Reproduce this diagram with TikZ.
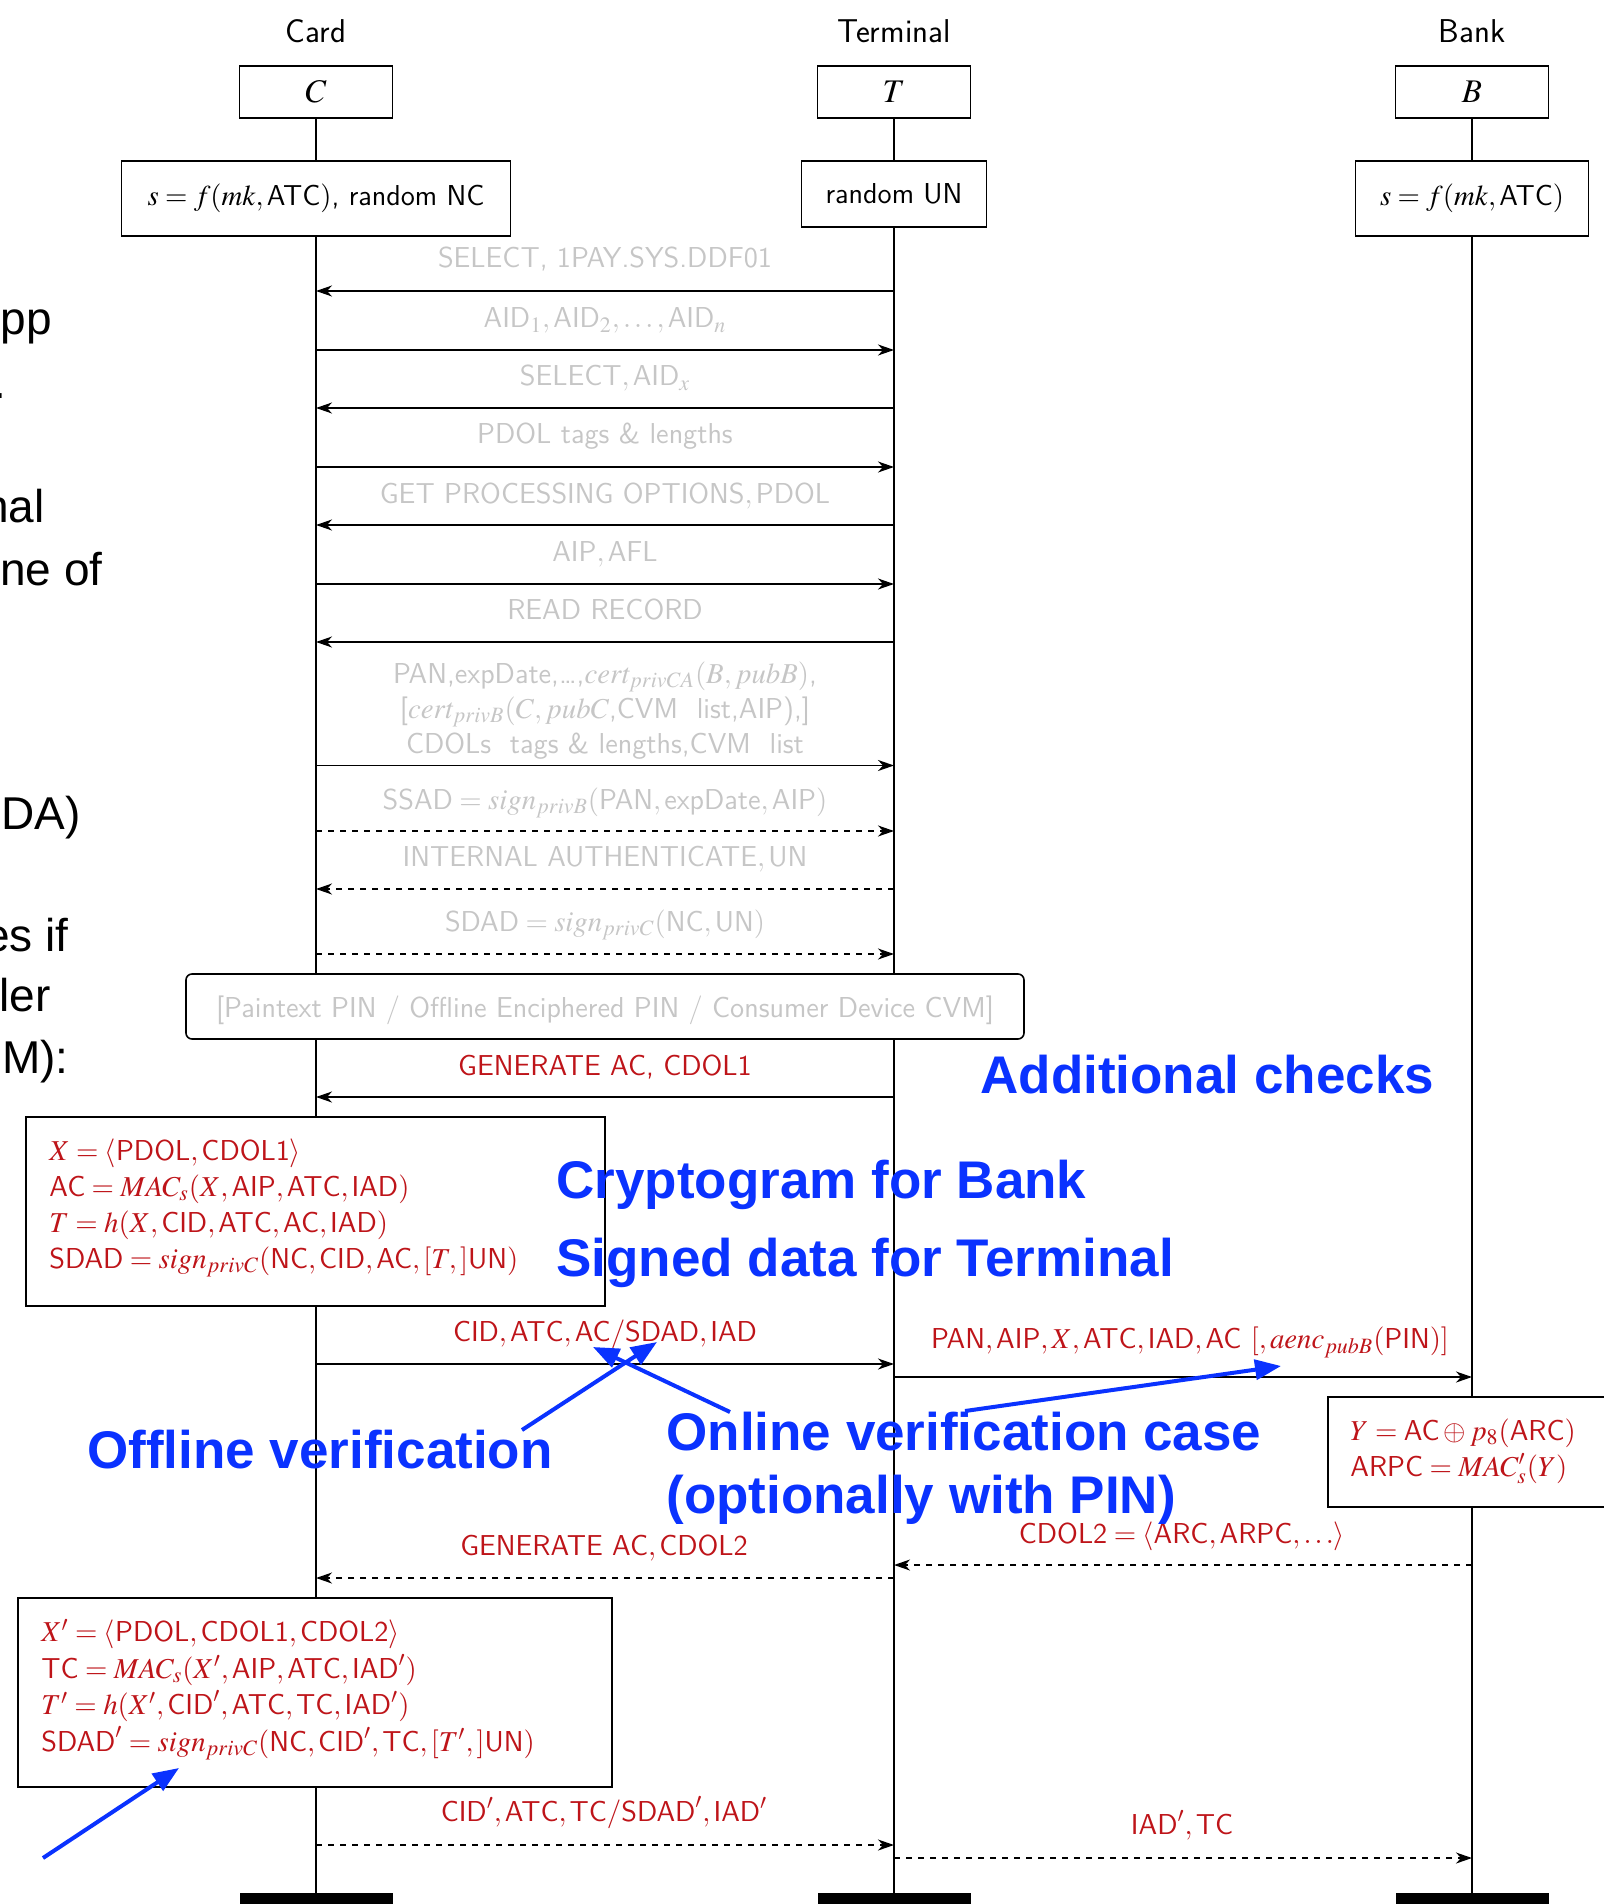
\documentclass[tikz,border=0pt]{standalone}
\usepackage{mathptmx}
\usepackage[no-math]{fontspec}
\setmainfont{Liberation Serif}
\newfontfamily\helv{Liberation Sans}
\usetikzlibrary{arrows.meta}
\definecolor{emvred}{RGB}{190,20,25}
\definecolor{emvgray}{RGB}{198,198,198}
\definecolor{emvblue}{RGB}{10,50,255}
\newcommand\fsmain{\fontsize{14.4}{18}\selectfont}
\newcommand\fsbig{\fontsize{16.5}{20}\selectfont}
\begin{document}
\begin{tikzpicture}[x=0.5pt,y=-0.5pt,
  lbl/.style={font=\fsbig\sffamily, inner sep=0pt, anchor=base},
  topbox/.style={draw, line width=0.8pt, fill=white, minimum width=76.5pt, minimum height=26pt, inner sep=0pt, font=\fsbig},
  initbox/.style={draw, line width=0.8pt, fill=white, inner sep=0pt, font=\fsmain\sffamily},
  life/.style={line width=0.6pt},
  msg/.style={line width=0.8pt, -{Stealth[length=8pt,width=5.5pt,inset=2.5pt]}},
  dmsg/.style={msg, dashed},
  gtxt/.style={text=emvgray, font=\fsmain\sffamily, inner sep=0pt, align=center, anchor=base},
  rtxt/.style={text=emvred, font=\fsmain\sffamily, inner sep=0pt, align=center, anchor=base},
  calc/.style={text=emvred, font=\fsmain\sffamily, inner sep=0pt, align=left, anchor=base west},
  calcbox/.style={draw, line width=0.8pt, fill=white, inner sep=0pt},
  note/.style={text=emvblue, font=\fontsize{26.5}{31.5}\selectfont\helv\bfseries, inner sep=0pt, anchor=base west},
  hint/.style={emvblue, line width=2pt, -{Triangle[length=13pt,width=10pt]}},
  frag/.style={font=\fontsize{23}{28}\selectfont\helv, inner sep=0pt, anchor=base east},
  endbar/.style={fill=black, minimum width=76.5pt, minimum height=14pt, inner sep=0pt}
]
\useasboundingbox (0,0) rectangle (1604,1904);

% cut-off slide text on the left
\begin{scope}
\clip (0,0) rectangle (1604,1904);
\node[frag] (f1) at (52,335) {pp};
\node[frag] (f2) at (7,398) {.};
\node[frag] (f3) at (45,522) {nal};
\node[frag] (f4) at (103,585) {ne of};
\node[frag] (f5) at (81,829) {DA)};
\node[frag] (f6) at (69,951) {es if};
\node[frag] (f7) at (51,1011) {ler};
\node[frag] (f8) at (69,1073) {M):};
\end{scope}

% participants
\node[lbl] (lc) at (316,43) {Card};
\node[lbl] (lt) at (894,43) {Terminal};
\node[lbl] (lb) at (1472,43) {Bank};
\node[topbox] (C) at (316,92) {$C$};
\node[topbox] (T) at (894,92) {$T$};
\node[topbox] (B) at (1472,92) {$B$};
\node[initbox, minimum width=194.5pt, minimum height=37.5pt] (Ci) at (316,198.5) {$s=f(mk,\mbox{ATC})$, random NC};
\node[initbox, minimum width=92.5pt, minimum height=33pt] (Ti) at (894,194) {random UN};
\node[initbox, minimum width=116.5pt, minimum height=37.5pt] (Bi) at (1472,198.5) {$s=f(mk,\mbox{ATC})$};
\node[endbar] (Ce) at (316,1907) {};
\node[endbar] (Te) at (894,1907) {};
\node[endbar] (Be) at (1472,1907) {};

% lifelines
\draw[life] (C) -- (Ci);
\draw[life] (T) -- (Ti);
\draw[life] (B) -- (Bi);
\draw[life] (Ci) -- (Ce);
\draw[life] (Ti) -- (Te);
\draw[life] (Bi) -- (Be);

% message end points
\foreach \i/\y in {1/291,2/350,3/408,4/467,5/525,6/584,7/642,8/765.5,9/831,10/889,11/954,12/1097,13/1364,14/1377,15/1565,16/1578,17/1845,18/1858}{
  \coordinate (c\i) at (316,\y);
  \coordinate (t\i) at (894,\y);
  \coordinate (b\i) at (1472,\y);
}

% grey messages
\node[gtxt] (g1) at (605,268) {SELECT, 1PAY.SYS.DDF01};
\draw[msg] (t1) -- (c1);
\node[gtxt] (g2) at (605,328) {$\mbox{AID}_1,\mbox{AID}_2,\ldots,\mbox{AID}_n$};
\draw[msg] (c2) -- (t2);
\node[gtxt] (g3) at (605,386) {$\mbox{SELECT},\mbox{AID}_x$};
\draw[msg] (t3) -- (c3);
\node[gtxt] (g4) at (605,443) {PDOL tags \& lengths};
\draw[msg] (c4) -- (t4);
\node[gtxt] (g5) at (605,503) {$\mbox{GET PROCESSING OPTIONS},\mbox{PDOL}$};
\draw[msg] (t5) -- (c5);
\node[gtxt] (g6) at (605,561) {$\mbox{AIP},\mbox{AFL}$};
\draw[msg] (c6) -- (t6);
\node[gtxt] (g7) at (605,619) {READ RECORD};
\draw[msg] (t7) -- (c7);
\node[gtxt, font=\fontsize{14.4}{17.5}\selectfont\sffamily] (g8) at (605,753) {PAN,expDate,\ldots,$cert_{privCA}(B,pubB)$,\\
{[}$cert_{privB}(C,pubC$,CVM\ \ list,AIP),{]}\\
CDOLs\ \ tags \& lengths,CVM\ \ list};
\draw[msg] (c8) -- (t8);
\node[gtxt] (g9) at (605,809) {$\mbox{SSAD}=sign_{privB}(\mbox{PAN},\mbox{expDate},\mbox{AIP})$};
\draw[dmsg] (c9) -- (t9);
\node[gtxt] (g10) at (605,866) {$\mbox{INTERNAL AUTHENTICATE},\mbox{UN}$};
\draw[dmsg] (t10) -- (c10);
\node[gtxt] (g11) at (605,931) {$\mbox{SDAD}=sign_{privC}(\mbox{NC},\mbox{UN})$};
\draw[dmsg] (c11) -- (t11);

\node[draw, line width=0.8pt, fill=white, rounded corners=3pt, minimum width=419pt, minimum height=32.5pt] (cvm) at (605,1006.5) {};
\node[gtxt] (cvmt) at (605,1017) {[Paintext PIN\ /\ Offline Enciphered PIN\ /\ Consumer Device CVM]};

% first GENERATE AC
\node[rtxt] (r12) at (605,1075) {GENERATE AC,\ CDOL1};
\draw[msg] (t12) -- (c12);

\node[calcbox, minimum width=289.5pt, minimum height=94.5pt] (xbox) at (315.5,1211.5) {};
\node[calc] (xtxt) at (49,1268) {$X=\langle\mbox{PDOL},\mbox{CDOL1}\rangle$\\
$\mbox{AC}=MAC_s(X,\mbox{AIP},\mbox{ATC},\mbox{IAD})$\\
$T=h(X,\mbox{CID},\mbox{ATC},\mbox{AC},\mbox{IAD})$\\
$\mbox{SDAD}=sign_{privC}(\mbox{NC},\mbox{CID},\mbox{AC},[T,]\mbox{UN})$};

\node[rtxt] (r13) at (605,1341) {$\mbox{CID},\mbox{ATC},\mbox{AC}/\mbox{SDAD},\mbox{IAD}$};
\draw[msg] (c13) -- (t13);
\node[rtxt] (r14) at (1190,1348) {$\mbox{PAN},\mbox{AIP},X,\mbox{ATC},\mbox{IAD},\mbox{AC}\ [,aenc_{pubB}(\mbox{PIN})]$};
\draw[msg] (t14) -- (b14);

\node[calcbox, minimum width=144pt, minimum height=55pt] (ybox) at (1472,1452) {};
\node[calc] (ytxt) at (1350,1476) {$Y=\mbox{AC}\oplus p_8(\mbox{ARC})$\\
$\mbox{ARPC}=MAC'_s(Y)$};

\node[rtxt] (r15) at (1182,1543) {$\mbox{CDOL2}=\langle\mbox{ARC},\mbox{ARPC},\ldots\rangle$};
\draw[dmsg] (b15) -- (t15);
\node[rtxt] (r16) at (604,1555) {$\mbox{GENERATE AC},\mbox{CDOL2}$};
\draw[dmsg] (t16) -- (c16);

\node[calcbox, minimum width=297pt, minimum height=94.5pt] (xpbox) at (315,1692.5) {};
\node[calc, font=\fontsize{14.4}{18.2}\selectfont\sffamily] (xptxt) at (41,1751) {$X'=\langle\mbox{PDOL},\mbox{CDOL1},\mbox{CDOL2}\rangle$\\
$\mbox{TC}=MAC_s(X',\mbox{AIP},\mbox{ATC},\mbox{IAD}')$\\
$T'=h(X',\mbox{CID}',\mbox{ATC},\mbox{TC},\mbox{IAD}')$\\
$\mbox{SDAD}'=sign_{privC}(\mbox{NC},\mbox{CID}',\mbox{TC},[T',]\mbox{UN})$};

\node[rtxt] (r17) at (604,1821) {$\mbox{CID}',\mbox{ATC},\mbox{TC}/\mbox{SDAD}',\mbox{IAD}'$};
\draw[dmsg] (c17) -- (t17);
\node[rtxt] (r18) at (1182,1834) {$\mbox{IAD}',\mbox{TC}$};
\draw[dmsg] (t18) -- (b18);

% blue annotations
\node[note] (n1) at (980,1093) {Additional checks};
\node[note] (n2) at (556,1198) {Cryptogram for Bank};
\node[note] (n3) at (556,1276) {Signed data for Terminal};
\node[note] (n4) at (87,1468) {Offline verification};
\node[note, align=left] (n5) at (666,1513) {Online verification case\\(optionally with PIN)};

\coordinate (offS) at (522,1430);
\coordinate (offE) at (657,1342);
\coordinate (onS) at (730,1412);
\coordinate (onE) at (593,1347);
\coordinate (on2S) at (965,1411);
\coordinate (on2E) at (1281,1366);
\coordinate (ltS) at (43,1858);
\coordinate (ltE) at (179,1768);
\draw[hint] (offS) -- (offE);
\draw[hint] (onS) -- (onE);
\draw[hint] (on2S) -- (on2E);
\draw[hint] (ltS) -- (ltE);
\end{tikzpicture}
\end{document}
